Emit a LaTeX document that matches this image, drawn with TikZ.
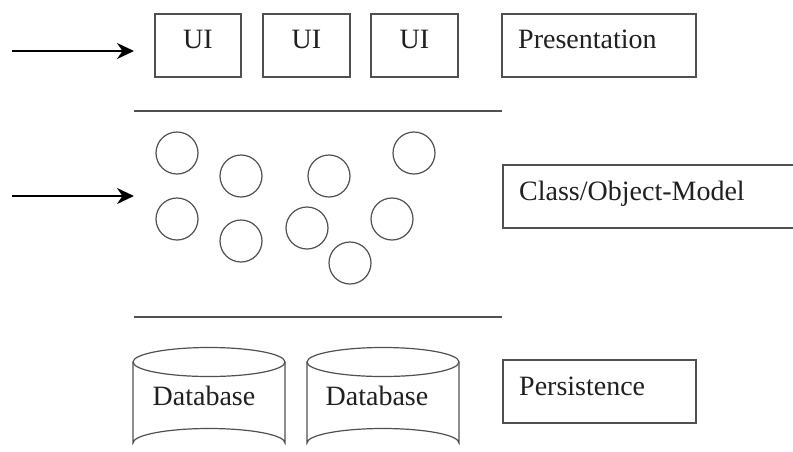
\documentclass[tikz,border=0pt]{standalone}
\usepackage{fontspec}
\setmainfont{Liberation Serif}
\usetikzlibrary{arrows.meta}
\definecolor{edge}{HTML}{505050}
\definecolor{ink}{HTML}{202020}
\tikzset{
  box/.style={draw=edge, line width=1.3pt, rectangle, inner sep=0pt},
  obj/.style={draw=edge, line width=1.2pt, circle, minimum size=42pt, inner sep=0pt},
  lbl/.style={text=ink, inner sep=0pt, font=\fontsize{28}{32}\selectfont},
  arr/.style={line width=1.5pt, draw=black, -{Stealth[length=17pt,width=16pt]}},
  rule/.style={line width=1.3pt, draw=edge},
  dbline/.style={draw=edge, line width=1.2pt}
}
\begin{document}
\begin{tikzpicture}[x=1pt,y=-1pt]
\useasboundingbox (0,0) rectangle (793,451);
\clip (0,0) rectangle (793,451);
\fill[white] (0,0) rectangle (793,451);
% arrows
\coordinate (a1s) at (12,51);
\coordinate (a1e) at (134,51);
\draw[arr] (a1s) -- (a1e);
\coordinate (a2s) at (12,196);
\coordinate (a2e) at (134,196);
\draw[arr] (a2s) -- (a2e);
% UI boxes
\node[box, minimum width=86pt, minimum height=63pt] (ui1) at (198,45.5) {};
\node[box, minimum width=87pt, minimum height=63pt] (ui2) at (306.5,45.5) {};
\node[box, minimum width=87pt, minimum height=63pt] (ui3) at (414.5,45.5) {};
\node[lbl, anchor=base] (ui1t) at (198,48) {UI};
\node[lbl, anchor=base] (ui2t) at (306.5,48) {UI};
\node[lbl, anchor=base] (ui3t) at (414.5,48) {UI};
% Presentation
\node[box, minimum width=194pt, minimum height=63pt] (pres) at (599,45.5) {};
\node[lbl, anchor=base west] (prest) at (518,48) {Presentation};
% rule 1
\coordinate (r1s) at (134,111);
\coordinate (r1e) at (502,111);
\draw[rule] (r1s) -- (r1e);
% objects
\node[obj] (c1) at (177,153) {};
\node[obj] (c2) at (241,176) {};
\node[obj] (c3) at (329,176) {};
\node[obj] (c4) at (414,153) {};
\node[obj] (c5) at (177,219) {};
\node[obj] (c6) at (241,241) {};
\node[obj] (c7) at (307,228) {};
\node[obj] (c8) at (392,219) {};
\node[obj] (c9) at (350,263) {};
% Class/Object-Model
\node[box, minimum width=300pt, minimum height=63pt] (model) at (653,196.5) {};
\node[lbl, anchor=base west] (modelt) at (519,200) {Class/Object-Model};
% rule 2
\coordinate (r2s) at (134,317);
\coordinate (r2e) at (502,317);
\draw[rule] (r2s) -- (r2e);
% databases
\foreach \cx/\nm in {209/db1, 383/db2}{
  \draw[dbline] (\cx,362) ellipse [x radius=76, y radius=14.5];
  \draw[dbline] (\cx-76,362) -- (\cx-76,443)
     arc[start angle=180, end angle=360, x radius=76, y radius=14.5] -- (\cx+76,362);
}
\node[lbl, anchor=base] (db1t) at (204,405) {Database};
\node[lbl, anchor=base] (db2t) at (377,405) {Database};
% Persistence
\node[box, minimum width=193pt, minimum height=63pt] (pers) at (599.5,391.5) {};
\node[lbl, anchor=base west] (perst) at (519,395) {Persistence};
\end{tikzpicture}
\end{document}
